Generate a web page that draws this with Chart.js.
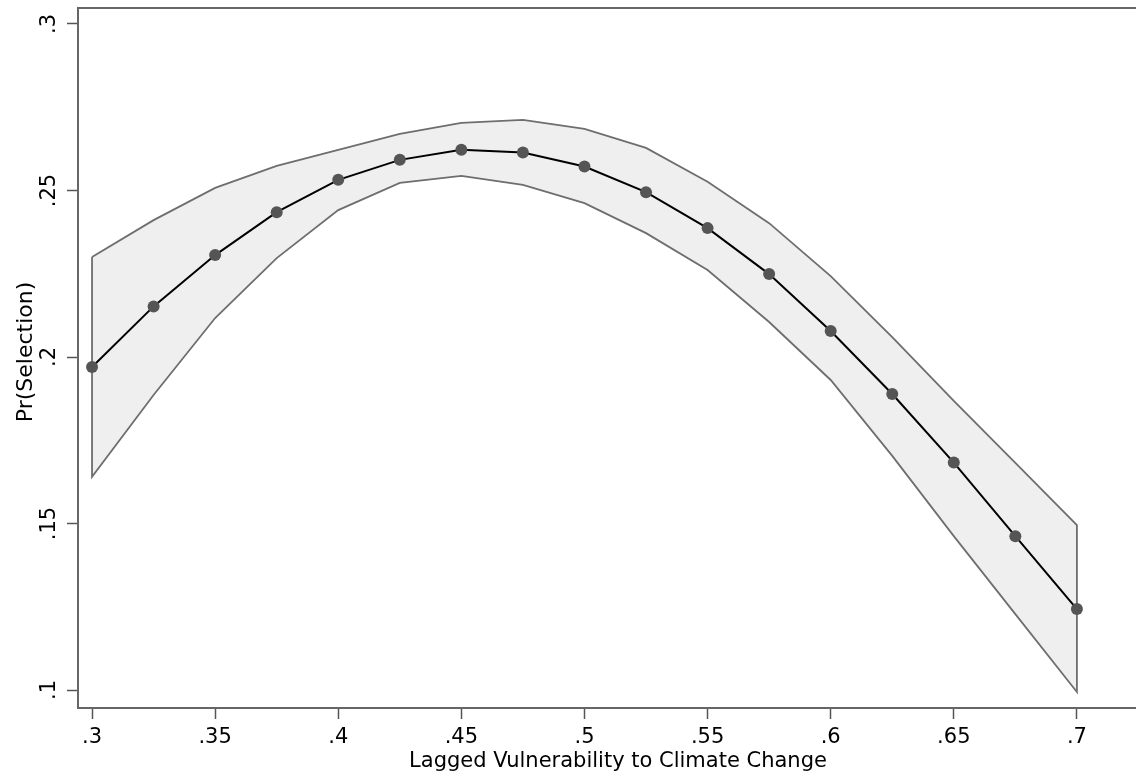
<!DOCTYPE html>
<html>
<head>
<meta charset="utf-8">
<script src="https://cdn.jsdelivr.net/npm/chart.js@4.4.1/dist/chart.umd.min.js"></script>
<style>
    html, body { margin: 0; padding: 0; background: #fff; }
</style>
</head>
<body>
<canvas id="marginsChart" width="1136" height="775"></canvas>
<script>
// vulnerability values where margins were evaluated
const xValues = [.3, .325, .35, .375, .4, .425, .45, .475, .5, .525, .55, .575, .6, .625, .65, .675, .7];
// predicted Pr(Selection) and its 95% CI
const predicted = [.1970, .2152, .2306, .2435, .2532, .2592, .2622, .2614, .2572, .2495, .2387, .2249, .2078, .1889, .1683, .1462, .1243];
const upperCI = [.2300, .2411, .2508, .2574, .2622, .2670, .2703, .2712, .2685, .2628, .2526, .2402, .2243, .2060, .1868, .1682, .1495];
const lowerCI = [.1640, .1886, .2117, .2297, .2441, .2523, .2544, .2517, .2462, .2372, .2261, .2105, .1931, .1703, .1462, .1228, .0994];

const xTicks = [.3, .35, .4, .45, .5, .55, .6, .65, .7];
const yTicks = [.1, .15, .2, .25, .3];

const xTitle = 'Lagged Vulnerability to Climate Change';
const yTitle = 'Pr(Selection)';

const FONT = '"DejaVu Sans", sans-serif';

// stata style labels: .3, .25 ...
function stataLabel(v) {
    return String(Number(v.toFixed(3))).replace(/^0/, '');
}

function points(ys) {
    return xValues.map((x, i) => ({ x: x, y: ys[i] }));
}

// closed outline of the CI area: upper left->right, lower right->left, back to start
const outline = points(upperCI)
    .concat(points(lowerCI).reverse())
    .concat([{ x: xValues[0], y: upperCI[0] }]);

// top frame line, rotated y labels and the two axis titles
// (the stata plot region runs past the right edge of the picture, so titles sit a bit right of centre)
const frameAndTitles = {
    id: 'frameAndTitles',
    afterDraw(chart) {
        const { ctx, chartArea, scales } = chart;
        ctx.save();
        ctx.strokeStyle = '#666';
        ctx.lineWidth = 2;
        ctx.beginPath();
        ctx.moveTo(chartArea.left, chartArea.top);
        ctx.lineTo(chart.width, chartArea.top);
        ctx.stroke();

        ctx.fillStyle = '#000';
        ctx.font = '21px ' + FONT;
        ctx.textAlign = 'center';
        ctx.textBaseline = 'middle';
        yTicks.forEach(v => {
            const py = scales.y.getPixelForValue(v);
            ctx.save();
            ctx.translate(50, py);
            ctx.rotate(-Math.PI / 2);
            ctx.fillText(stataLabel(v), 0, 0);
            ctx.restore();
        });

        ctx.textBaseline = 'alphabetic';
        ctx.fillText(xTitle, 618, 767);

        ctx.font = '22px ' + FONT;
        ctx.translate(32, 352);
        ctx.rotate(-Math.PI / 2);
        ctx.fillText(yTitle, 0, 0);
        ctx.restore();
    }
};

const ctx = document.getElementById('marginsChart').getContext('2d');
new Chart(ctx, {
    type: 'line',
    data: {
        datasets: [
            {
                label: 'Pr(Selection)',
                data: points(predicted),
                borderColor: '#000',
                borderWidth: 2,
                pointRadius: 6,
                pointBackgroundColor: '#555',
                pointBorderWidth: 0,
                fill: false,
                order: 0
            },
            {
                label: 'CI outline',
                data: outline,
                borderColor: '#6e6e6e',
                borderWidth: 1.8,
                pointRadius: 0,
                fill: false,
                order: 1
            },
            {
                label: 'upper',
                data: points(upperCI),
                borderColor: 'rgba(0,0,0,0)',
                borderWidth: 0,
                pointRadius: 0,
                backgroundColor: '#efefef',
                fill: '+1',
                order: 2
            },
            {
                label: 'lower',
                data: points(lowerCI),
                borderColor: 'rgba(0,0,0,0)',
                borderWidth: 0,
                pointRadius: 0,
                fill: false,
                order: 3
            }
        ]
    },
    options: {
        responsive: false,
        animation: false,
        events: [],
        layout: { autoPadding: false, padding: { top: 8, right: 0, left: 0, bottom: 0 } },
        plugins: {
            legend: { display: false },
            tooltip: { enabled: false }
        },
        scales: {
            x: {
                type: 'linear',
                min: .2943,
                max: .724,
                afterBuildTicks: s => { s.ticks = xTicks.map(v => ({ value: v })); },
                afterFit: s => { s.height = 67; s.paddingLeft = 0; s.paddingRight = 0; },
                border: { color: '#666', width: 2 },
                grid: { drawOnChartArea: false, drawTicks: true, tickLength: 11, tickColor: '#555', tickWidth: 1.5 },
                ticks: {
                    autoSkip: false,
                    maxRotation: 0,
                    padding: 6,
                    color: '#000',
                    font: { family: FONT, size: 21 },
                    callback: v => stataLabel(v)
                },
                title: { display: false }
            },
            y: {
                type: 'linear',
                min: .0946,
                max: .3048,
                afterBuildTicks: s => { s.ticks = yTicks.map(v => ({ value: v })); },
                afterFit: s => { s.width = 78; },
                border: { color: '#666', width: 2 },
                grid: { drawOnChartArea: false, drawTicks: true, tickLength: 11, tickColor: '#555', tickWidth: 1.5 },
                ticks: { display: false },
                title: { display: false }
            }
        }
    },
    plugins: [frameAndTitles]
});
</script>
</body>
</html>
